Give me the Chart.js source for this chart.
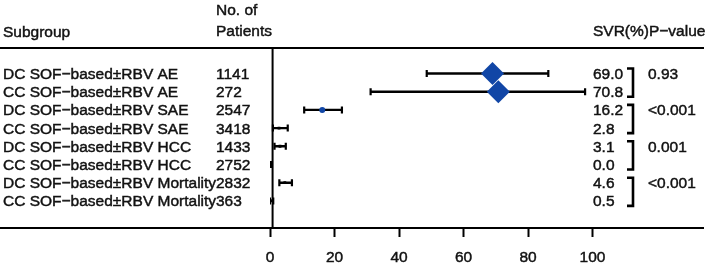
<!DOCTYPE html>
<html>
<head>
<meta charset="utf-8">
<script src="https://cdn.jsdelivr.net/npm/chart.js@4"></script>
<style>
  html, body { margin: 0; padding: 0; background: #fff; }
  #wrap { width: 708px; height: 264px; position: relative; }
</style>
</head>
<body>
<div id="wrap"><canvas id="c" width="708" height="264"></canvas></div>
<script>
const subgroups = [
  'DC SOF\u2212based\u00b1RBV AE',
  'CC SOF\u2212based\u00b1RBV AE',
  'DC SOF\u2212based\u00b1RBV SAE',
  'CC SOF\u2212based\u00b1RBV SAE',
  'DC SOF\u2212based\u00b1RBV HCC',
  'CC SOF\u2212based\u00b1RBV HCC',
  'DC SOF\u2212based\u00b1RBV Mortality',
  'CC SOF\u2212based\u00b1RBV Mortality'
];
const patients = ['1141', '272', '2547', '3418', '1433', '2752', '2832', '363'];
const svr = [69.0, 70.8, 16.2, 2.8, 3.1, 0.0, 4.6, 0.5];
const svrLabels = ['69.0', '70.8', '16.2', '2.8', '3.1', '0.0', '4.6', '0.5'];
const ciLow = [48.6, 31.2, 10.6, 0.9, 1.4, 0.0, 2.9, 0.0];
const ciHigh = [86.3, 97.7, 22.3, 5.5, 4.9, 0.6, 6.8, 1.0];
const pValues = ['0.93', '<0.001', '0.001', '<0.001'];
const xTicks = [0, 20, 40, 60, 80, 100];
const refLine = 0.8;

const FONT = "'Liberation Sans', Arial, sans-serif";
const TXT = '#111111';
const BLUE = '#1146a6';

const markerStyles = svr.map((v, i) => i < 2 ? 'rectRot' : (i === 2 ? 'circle' : 'rect'));
const markerRadius = svr.map((v, i) => i < 2 ? 11.5 : (i === 2 ? 3 : 2));
const markerColors = svr.map((v, i) => i < 3 ? BLUE : '#000');

const datasets = [{
  type: 'scatter',
  order: 0,
  data: svr.map((v, i) => ({x: v, y: i})),
  pointStyle: markerStyles,
  pointRadius: markerRadius,
  pointBackgroundColor: markerColors,
  pointBorderColor: markerColors,
  pointBorderWidth: 0,
  pointHoverRadius: markerRadius
}];
subgroups.forEach((s, i) => {
  datasets.push({
    type: 'line',
    order: 1,
    data: [{x: ciLow[i], y: i}, {x: ciHigh[i], y: i}],
    borderColor: '#000',
    borderWidth: 2.4,
    pointStyle: 'line',
    rotation: 90,
    pointRadius: 3.5,
    pointBorderWidth: 2.2,
    pointBorderColor: '#000',
    fill: false
  });
});

function txt(ctx, s, x, y) {
  ctx.strokeText(s, x, y);
  ctx.fillText(s, x, y);
}

const textPlugin = {
  id: 'forestText',
  afterDraw(chart) {
    const ctx = chart.ctx;
    const xs = chart.scales.x, ys = chart.scales.y;
    const ca = chart.chartArea;
    ctx.save();
    // horizontal rules
    ctx.strokeStyle = '#000';
    ctx.lineWidth = 2;
    ctx.beginPath();
    ctx.moveTo(0, ca.top); ctx.lineTo(704, ca.top);
    ctx.moveTo(0, ca.bottom); ctx.lineTo(704, ca.bottom);
    ctx.stroke();
    // reference line
    const rx = xs.getPixelForValue(refLine);
    ctx.beginPath();
    ctx.moveTo(rx, ca.top); ctx.lineTo(rx, ca.bottom);
    ctx.stroke();

    // brackets
    ctx.lineWidth = 2.6;
    pValues.forEach((p, k) => {
      const y1 = ys.getPixelForValue(2 * k) - 5;
      const y2 = ys.getPixelForValue(2 * k + 1) + 5;
      const bx = 633;
      ctx.beginPath();
      ctx.moveTo(627, y1); ctx.lineTo(bx, y1); ctx.lineTo(bx, y2); ctx.lineTo(627, y2);
      ctx.stroke();
    });

    ctx.fillStyle = TXT;
    ctx.strokeStyle = TXT;
    ctx.lineWidth = 0.45;
    ctx.font = '15.5px ' + FONT;
    ctx.textBaseline = 'alphabetic';
    ctx.textAlign = 'left';
    // headers
    txt(ctx, 'Subgroup', 3, 36.5);
    txt(ctx, 'No. of', 216, 15);
    txt(ctx, 'Patients', 216, 35.5);
    txt(ctx, 'SVR(%)P\u2212value', 593, 35.5);
    // rows
    subgroups.forEach((s, i) => {
      const y = ys.getPixelForValue(i) + 5.5;
      txt(ctx, s, 3, y);
      txt(ctx, patients[i], 216, y);
      txt(ctx, svrLabels[i], 593, y);
    });
    pValues.forEach((p, k) => {
      txt(ctx, p, 648, ys.getPixelForValue(2 * k) + 5.5);
    });
    ctx.restore();
  }
};

new Chart(document.getElementById('c'), {
  data: { datasets },
  options: {
    responsive: false,
    animation: false,
    events: [],
    layout: { padding: { left: 270, right: 115.5, top: 48, bottom: 0 } },
    plugins: { legend: { display: false }, tooltip: { enabled: false } },
    scales: {
      x: {
        type: 'linear',
        min: 0, max: 100,
        afterFit(scale) { scale.height = 36; },
        afterBuildTicks(scale) { scale.ticks = xTicks.map(v => ({value: v})); },
        grid: { drawOnChartArea: false, drawTicks: true, tickLength: 9, tickWidth: 2, tickColor: '#000' },
        border: { display: false },
        ticks: { color: TXT, font: { family: FONT, size: 15.5 }, padding: 11, maxRotation: 0,
                 textStrokeColor: TXT, textStrokeWidth: 0.45 }
      },
      y: {
        type: 'linear',
        display: false,
        reverse: true,
        min: -1.40, max: 8.49
      }
    }
  },
  plugins: [textPlugin]
});
</script>
</body>
</html>
